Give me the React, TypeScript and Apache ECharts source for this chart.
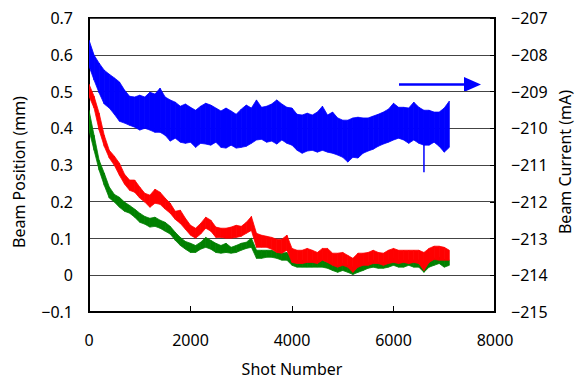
import React, { useEffect, useRef } from 'react';
import * as echarts from 'echarts';

// Sampling positions (shot number) at which the band extents were read
const shots = [
  0, 100, 200, 300, 400, 500, 600, 700, 800, 900,
  1000, 1100, 1200, 1300, 1400, 1500, 1600, 1700, 1800, 1900,
  2000, 2100, 2200, 2300, 2400, 2500, 2600, 2700, 2800, 2900,
  3000, 3100, 3200, 3300, 3400, 3500, 3600, 3700, 3800, 3900,
  4000, 4100, 4200, 4300, 4400, 4500, 4600, 4700, 4800, 4900,
  5000, 5100, 5200, 5300, 5400, 5500, 5600, 5700, 5800, 5900,
  6000, 6100, 6200, 6300, 6400, 6500, 6600, 6700, 6800, 6900,
  7000, 7100,
];

// Beam current (mA), right axis: upper / lower extent of the noise band
const blueTop = [
  -207.60, -208.01, -208.23, -208.42, -208.53, -208.63, -208.74, -208.96, -209.13, -209.15,
  -209.10, -209.15, -209.02, -209.07, -208.91, -209.15, -209.23, -209.29, -209.40, -209.34,
  -209.43, -209.51, -209.40, -209.32, -209.37, -209.45, -209.53, -209.45, -209.53, -209.62,
  -209.48, -209.37, -209.45, -209.23, -209.43, -209.40, -209.34, -209.23, -209.34, -209.43,
  -209.45, -209.62, -209.64, -209.59, -209.64, -209.56, -209.40, -209.64, -209.56, -209.72,
  -209.78, -209.78, -209.72, -209.70, -209.72, -209.72, -209.67, -209.62, -209.56, -209.48,
  -209.32, -209.43, -209.43, -209.45, -209.29, -209.43, -209.51, -209.51, -209.56, -209.56,
  -209.45, -209.26,
];
const blueBottom = [
  -208.31, -208.69, -209.04, -209.34, -209.45, -209.62, -209.81, -209.86, -209.92, -209.97,
  -210.05, -210.00, -210.05, -210.11, -210.11, -210.19, -210.35, -210.27, -210.38, -210.41,
  -210.38, -210.52, -210.41, -210.43, -210.46, -210.38, -210.52, -210.54, -210.46, -210.54,
  -210.52, -210.49, -210.41, -210.32, -210.30, -210.38, -210.35, -210.43, -210.32, -210.41,
  -210.46, -210.60, -210.68, -210.62, -210.60, -210.65, -210.60, -210.65, -210.68, -210.73,
  -210.79, -210.92, -210.79, -210.81, -210.68, -210.62, -210.57, -210.49, -210.43, -210.38,
  -210.32, -210.27, -210.32, -210.41, -210.32, -210.41, -210.46, -210.46, -210.38, -210.49,
  -210.65, -210.52,
];
// single downward spike in the beam current
const blueSpikeShot = 6600;
const blueSpikeRange = [-210.45, -211.2];

// Beam position (mm), left axis
const redTop = [
  0.520, 0.487, 0.441, 0.381, 0.340, 0.324, 0.305, 0.275, 0.259, 0.259,
  0.240, 0.223, 0.218, 0.234, 0.226, 0.210, 0.196, 0.174, 0.177, 0.155,
  0.136, 0.128, 0.141, 0.158, 0.150, 0.131, 0.128, 0.128, 0.131, 0.136,
  0.133, 0.144, 0.160, 0.114, 0.109, 0.106, 0.103, 0.098, 0.098, 0.109,
  0.073, 0.068, 0.068, 0.073, 0.068, 0.062, 0.073, 0.073, 0.060, 0.060,
  0.062, 0.054, 0.046, 0.060, 0.060, 0.062, 0.068, 0.062, 0.060, 0.068,
  0.073, 0.068, 0.068, 0.068, 0.068, 0.068, 0.062, 0.073, 0.079, 0.079,
  0.076, 0.068,
];
const redBottom = [
  0.487, 0.455, 0.395, 0.351, 0.319, 0.299, 0.272, 0.248, 0.231, 0.226,
  0.210, 0.199, 0.185, 0.196, 0.193, 0.180, 0.169, 0.152, 0.141, 0.125,
  0.109, 0.101, 0.112, 0.128, 0.120, 0.103, 0.103, 0.101, 0.101, 0.103,
  0.106, 0.114, 0.122, 0.076, 0.076, 0.076, 0.071, 0.062, 0.060, 0.068,
  0.035, 0.032, 0.032, 0.035, 0.035, 0.032, 0.041, 0.035, 0.027, 0.022,
  0.027, 0.022, 0.008, 0.022, 0.027, 0.027, 0.032, 0.032, 0.027, 0.032,
  0.035, 0.032, 0.035, 0.032, 0.035, 0.032, 0.013, 0.035, 0.043, 0.041,
  0.041, 0.041,
];
const greenTop = [
  0.449, 0.381, 0.313, 0.278, 0.240, 0.220, 0.212, 0.199, 0.190, 0.180,
  0.169, 0.160, 0.155, 0.158, 0.150, 0.144, 0.133, 0.117, 0.103, 0.092,
  0.087, 0.081, 0.090, 0.103, 0.095, 0.087, 0.081, 0.087, 0.076, 0.081,
  0.087, 0.090, 0.101, 0.068, 0.068, 0.068, 0.068, 0.062, 0.060, 0.062,
  0.046, 0.041, 0.041, 0.035, 0.041, 0.041, 0.041, 0.035, 0.032, 0.027,
  0.032, 0.027, 0.022, 0.027, 0.032, 0.035, 0.041, 0.035, 0.035, 0.041,
  0.046, 0.041, 0.041, 0.041, 0.041, 0.041, 0.035, 0.041, 0.046, 0.049,
  0.043, 0.041,
];
const greenBottom = [
  0.395, 0.340, 0.286, 0.245, 0.210, 0.199, 0.185, 0.174, 0.169, 0.158,
  0.144, 0.139, 0.131, 0.133, 0.128, 0.120, 0.112, 0.095, 0.081, 0.071,
  0.062, 0.062, 0.071, 0.076, 0.071, 0.062, 0.060, 0.062, 0.060, 0.062,
  0.068, 0.073, 0.076, 0.046, 0.046, 0.049, 0.049, 0.046, 0.041, 0.041,
  0.027, 0.022, 0.022, 0.022, 0.022, 0.022, 0.022, 0.019, 0.013, 0.008,
  0.013, 0.008, 0.002, 0.008, 0.013, 0.019, 0.022, 0.019, 0.019, 0.022,
  0.027, 0.022, 0.022, 0.027, 0.022, 0.022, 0.008, 0.022, 0.027, 0.032,
  0.022, 0.027,
];

const FONT = '"Noto Sans", "DejaVu Sans", sans-serif';

function minusFmt(v: number, digits: number): string {
  const n = Number(v.toFixed(digits));
  if (n === 0) return '0';
  const s = n.toFixed(digits);
  return s.replace('-', '\u2212');
}

function bandData(top: number[], bottom: number[]) {
  const out: number[][] = [];
  for (let i = 0; i < shots.length - 1; i++) {
    out.push([shots[i], top[i], bottom[i], shots[i + 1], top[i + 1], bottom[i + 1]]);
  }
  return out;
}

function bandSeries(name: string, top: number[], bottom: number[], color: string, yAxisIndex: number) {
  return {
    type: 'custom',
    name,
    xAxisIndex: 0,
    yAxisIndex,
    clip: true,
    silent: true,
    data: bandData(top, bottom),
    encode: { x: [0, 3], y: [1, 2, 4, 5] },
    renderItem: (params: any, api: any) => {
      const a = api.coord([api.value(0), api.value(1)]);
      const b = api.coord([api.value(3), api.value(4)]);
      const c = api.coord([api.value(3), api.value(5)]);
      const d = api.coord([api.value(0), api.value(2)]);
      return {
        type: 'polygon',
        shape: { points: [a, b, c, d] },
        style: { fill: color, stroke: color, lineWidth: 0.8 },
      };
    },
  };
}

export default function App() {
  const ref = useRef<HTMLDivElement>(null);
  useEffect(() => {
    if (!ref.current) return;
    const chart = echarts.init(ref.current, undefined, { renderer: 'svg' });
    const axisText = { fontSize: 16, color: '#000', fontFamily: FONT };
    chart.setOption({
      animation: false,
      backgroundColor: '#fff',
      grid: { left: 89, right: 81, top: 18, bottom: 68, show: true, borderColor: '#000', borderWidth: 2 },
      xAxis: {
        type: 'value',
        min: 0,
        max: 8000,
        interval: 2000,
        axisLine: { show: true, onZero: false, lineStyle: { color: '#000', width: 2 } },
        axisTick: { show: true, inside: true, length: 6, lineStyle: { color: '#000', width: 1 } },
        splitLine: { show: false },
        axisLabel: { ...axisText, margin: 20, formatter: (v: number) => String(v) },
      },
      yAxis: [
        {
          type: 'value',
          position: 'left',
          min: -0.1,
          max: 0.7,
          interval: 0.1,
          axisLine: { show: true, onZero: false, lineStyle: { color: '#000', width: 2 } },
          axisTick: { show: false },
          splitLine: { show: true, lineStyle: { color: '#444', width: 1 } },
          axisLabel: { ...axisText, margin: 16, formatter: (v: number) => minusFmt(v, 1) },
        },
        {
          type: 'value',
          position: 'right',
          min: -215,
          max: -207,
          interval: 1,
          axisLine: { show: true, onZero: false, lineStyle: { color: '#000', width: 2 } },
          axisTick: { show: true, inside: true, length: 5, lineStyle: { color: '#000' } },
          splitLine: { show: false },
          axisLabel: { ...axisText, margin: 16, formatter: (v: number) => minusFmt(v, 0) },
        },
      ],
      series: [
        bandSeries('green', greenTop, greenBottom, '#008000', 0),
        bandSeries('red', redTop, redBottom, '#ff0000', 0),
        bandSeries('blue', blueTop, blueBottom, '#0000ff', 1),
        {
          type: 'line',
          yAxisIndex: 1,
          symbol: 'none',
          silent: true,
          lineStyle: { color: '#0000ff', width: 1.5 },
          data: blueSpikeRange.map((v) => [blueSpikeShot, v]),
        },
      ],
      graphic: [
        {
          type: 'text',
          x: 19,
          y: 172,
          rotation: Math.PI / 2,
          style: { text: 'Beam Position (mm)', fontSize: 16, fill: '#000', fontFamily: FONT, align: 'center', verticalAlign: 'middle' },
        },
        {
          type: 'text',
          x: 565,
          y: 162,
          rotation: Math.PI / 2,
          style: { text: 'Beam Current (mA)', fontSize: 16, fill: '#000', fontFamily: FONT, align: 'center', verticalAlign: 'middle' },
        },
        {
          type: 'text',
          x: 292,
          y: 369,
          style: { text: 'Shot Number', fontSize: 16, fill: '#000', fontFamily: FONT, align: 'center', verticalAlign: 'middle' },
        },
        {
          type: 'line',
          shape: { x1: 399, y1: 84.5, x2: 467, y2: 84.5 },
          style: { stroke: '#0000ff', lineWidth: 2.5 },
        },
        {
          type: 'polygon',
          shape: { points: [[464, 77], [481, 84.5], [464, 92]] },
          style: { fill: '#0000ff' },
        },
      ],
    });
    return () => chart.dispose();
  }, []);
  return <div ref={ref} style={{ position: 'fixed', left: 0, top: 0, width: 576, height: 380 }} />;
}
